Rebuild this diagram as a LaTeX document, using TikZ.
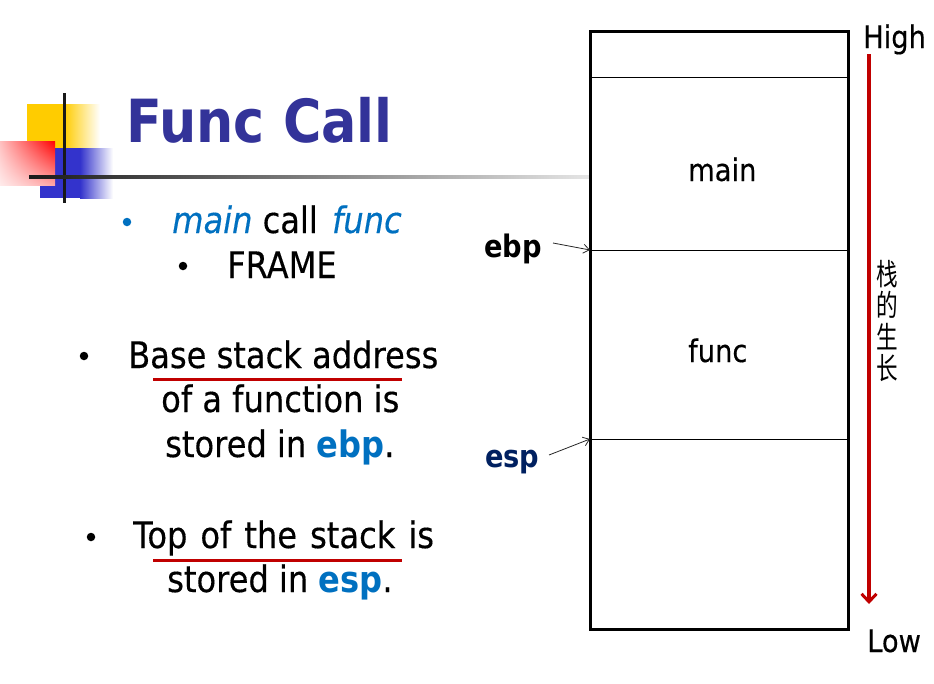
\documentclass[tikz,border=0pt]{standalone}
\usepackage{fontspec}
\setmainfont{DejaVu Sans}[FakeStretch=0.88, UprightFeatures={FakeBold=0.35}, ItalicFeatures={FakeBold=0.35}]
\newfontfamily\cjkfont{Noto Sans CJK SC}[FakeStretch=0.72]
\usetikzlibrary{arrows.meta,calc,shadings}
\definecolor{titleblue}{HTML}{333399}
\definecolor{txtblue}{HTML}{0070C0}
\definecolor{navy}{HTML}{002060}
\definecolor{darkred}{HTML}{C00000}
\definecolor{sqyellow}{HTML}{FFCC00}
\definecolor{sqblue}{HTML}{3333CC}
\tikzset{
  txt/.style={inner sep=0pt, anchor=base west, font=\fontsize{36.5}{40}\selectfont},
  boxtxt/.style={inner sep=0pt, anchor=base west, font=\fontsize{31}{34}\selectfont},
  regtxt/.style={inner sep=0pt, anchor=base west, font=\fontsize{31}{34}\selectfont\bfseries},
  bul/.style={circle, fill=black, inner sep=0pt, minimum size=8.5pt},
  uline/.style={draw=darkred, line width=3pt},
  ptr/.style={draw=black!85, line width=0.8pt, -{Straight Barb[length=6pt,width=9pt]}},
}
\begin{document}
\begin{tikzpicture}[x=1pt,y=-1pt]
\useasboundingbox (0,0) rectangle (934,683);
% --- corner decoration
\fill[sqyellow] (27,104) rectangle (64,148);
\shade[left color=sqyellow, right color=white] (64,104) rectangle (100,148);
\fill[sqblue] (40,148) rectangle (80,198);
\shade[left color=sqblue, right color=white] (80,148) rectangle (113,198);
\shade[upper right=red, upper left=red!25, lower left=red!8, lower right=red!35] (0,141) rectangle (55,185);
\fill[black!90] (62.5,93) rectangle (65.5,203);
\shade[left color=black!90, middle color=black!40, right color=black!10] (29,175.5) rectangle (590,178.5);
% --- title
\node[inner sep=0pt, anchor=base west, font=\fontsize{59.5}{64}\selectfont\bfseries, text=titleblue] (title) at (126,142) {Func Call};
% --- bullets and text
\node[bul, fill=txtblue] (b1) at (127,222) {};
\node[txt] (t1) at (172,233) {\textcolor{txtblue}{\itshape main} call\hspace{4pt} \textcolor{txtblue}{\itshape func}};
\node[bul] (b2) at (183,266) {};
\node[txt] (t2) at (227,278) {FRAME};
\node[bul] (b3) at (84,356) {};
\node[txt] (t3) at (128,368) {Base stack address};
\node[txt] (t4) at (161,412) {of a function is};
\node[txt] (t5) at (165,457) {stored in \textcolor{txtblue}{\bfseries ebp}.};
\node[bul] (b4) at (91,537) {};
\node[txt] (t6) at (133,548) {\spaceskip=13pt Top of the stack is};
\node[txt] (t7) at (167,592) {stored in \textcolor{txtblue}{\bfseries esp}.};
\coordinate (u1a) at (153,379); \coordinate (u1b) at (402,379);
\coordinate (u2a) at (153,560); \coordinate (u2b) at (402,560);
\draw[uline] (u1a) -- (u1b);
\draw[uline] (u2a) -- (u2b);
% --- stack
\node[draw, line width=3pt, minimum width=258pt, minimum height=598pt, inner sep=0pt] (stack) at (719,330) {};
\coordinate (d1) at (590,77);
\coordinate (d2) at (590,250);
\coordinate (d3) at (590,439);
\draw[line width=1pt] (d1) -- (d1 -| stack.east);
\draw[line width=1pt] (d2) -- (d2 -| stack.east);
\draw[line width=1pt] (d3) -- (d3 -| stack.east);
\node[boxtxt] (mainlbl) at (688,181) {main};
\node[boxtxt] (funclbl) at (688,362) {func};
% --- pointers
\node[regtxt] (ebp) at (484,257) {ebp};
\node[regtxt, text=navy] (esp) at (485,467) {esp};
\coordinate (ebpfrom) at (553,243);
\coordinate (espfrom) at (549,455);
\draw[ptr] (ebpfrom) -- (d2);
\draw[ptr] (espfrom) -- (d3);
% --- growth arrow
\node[boxtxt] (high) at (863,48) {High};
\node[boxtxt] (low) at (867,652) {Low};
\coordinate (gtop) at (869,54);
\coordinate (gbot) at (869,604);
\draw[darkred, line width=3.2pt, -{Straight Barb[length=8pt,width=15pt,line width=3pt]}] (gtop) -- (gbot);
\node[inner sep=0pt, align=center, font=\cjkfont\fontsize{30}{31.5}\selectfont] (grow) at (887,321) {栈\\的\\生\\长};
\end{tikzpicture}
\end{document}
